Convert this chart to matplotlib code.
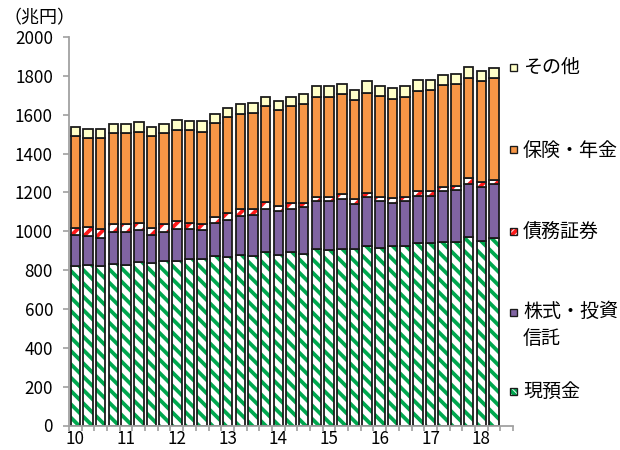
import matplotlib
matplotlib.use('Agg')
import matplotlib.pyplot as plt
from matplotlib.patches import Rectangle
import numpy as np

# quarterly, 2010 Q1 - 2018 Q2 (trillion yen)
years = ['10', '11', '12', '13', '14', '15', '16', '17', '18']
cash = [820, 827, 820, 832, 827, 841, 834, 848, 848, 856, 856, 872, 865, 879, 872, 892, 879,
        891, 884, 908, 901, 908, 908, 925, 915, 925, 925, 937, 937, 944, 944, 968, 952, 964]
stocks = [160, 149, 147, 165, 170, 165, 147, 149, 163, 154, 151, 171, 192, 199, 214, 225, 223,
          226, 242, 247, 254, 260, 231, 252, 240, 221, 230, 247, 247, 262, 269, 276, 278, 278]
bonds = [39, 45, 46, 39, 39, 38, 38, 39, 41, 33, 29, 29, 39, 34, 31, 33, 27,
         29, 22, 22, 22, 24, 26, 22, 22, 24, 22, 22, 22, 21, 22, 29, 21, 24]
pension = [471, 461, 468, 468, 468, 468, 471, 468, 468, 476, 475, 483, 490, 490, 492, 495, 494,
           500, 506, 516, 516, 514, 513, 514, 521, 512, 516, 516, 521, 525, 523, 516, 523, 523]
other = [46, 46, 46, 46, 46, 48, 46, 46, 53, 46, 55, 48, 48, 53, 53, 48, 48,
         46, 53, 53, 53, 53, 51, 60, 48, 53, 53, 58, 53, 51, 51, 58, 51, 51]

DPI = 80
PT = 72 / DPI  # pixels -> points

plt.rcParams['font.family'] = ['Noto Sans CJK JP', 'DejaVu Sans']
plt.rcParams['hatch.linewidth'] = 3.4

fig = plt.figure(figsize=(620 / DPI, 450 / DPI), dpi=DPI)
ax = fig.add_axes([69 / 620, 1 - 425.5 / 450, 444 / 620, 388.5 / 450])

x = np.arange(len(cash))
w = 0.75
edge = '#1a1a1a'
green = '#00a84f'
red = '#ff1a1a'

# (values, face colour, hatch, hatch colour)
layers = [
    (cash, 'white', '\\\\', green),
    (stocks, '#8064a2', None, None),
    (bonds, 'white', '//', red),
    (pension, '#f79646', None, None),
    (other, '#ffffc8', None, None),
]

bottom = np.zeros(len(x))
for vals, face, hatch, hc in layers:
    vals = np.array(vals, dtype=float)
    if hatch:
        ax.bar(x, vals, w, bottom=bottom, color=face, edgecolor=hc, hatch=hatch, linewidth=0)
    else:
        ax.bar(x, vals, w, bottom=bottom, color=face, linewidth=0)
    ax.bar(x, vals, w, bottom=bottom, fill=False, edgecolor=edge, linewidth=1.6)
    bottom += vals

ax.set_xlim(-0.5, len(x) + 0.5)
ax.set_ylim(0, 2000)
ax.set_yticks(range(0, 2001, 200))

ax.set_xticks(np.arange(0, len(x), 4))
ax.set_xticklabels(years)
ax.set_xticks(np.arange(-0.5, len(x) + 1, 1), minor=True)

for s in ['top', 'right']:
    ax.spines[s].set_visible(False)
for s in ['left', 'bottom']:
    ax.spines[s].set_color('#a0a0a0')
    ax.spines[s].set_linewidth(1.6)

ax.tick_params(axis='y', direction='out', length=6 * PT, width=1.5, color='#a0a0a0',
               labelsize=17 * PT, pad=10 * PT)
ax.tick_params(axis='x', which='major', length=0, labelsize=17 * PT, pad=5 * PT)
ax.tick_params(axis='x', which='minor', direction='out', length=5 * PT, width=1.5, color='#a0a0a0')

fig.text(4 / 620, 1 - 18 / 450, '（兆円）', fontsize=18 * PT, ha='left', va='center')

# legend on the right, from top to bottom: label, centre of first line (px), face, hatch
legend_items = [
    ('その他', 67, '#ffffc8', None, None),
    ('保険・年金', 150, '#f79646', None, None),
    ('債務証券', 231, 'white', '////', red),
    ('株式・投資\n信託', 312, '#8064a2', None, None),
    ('現預金', 391, 'white', '\\\\\\\\', green),
]
sq = 7
for label, ypx, face, hatch, hc in legend_items:
    yf = 1 - ypx / 450
    box = (510 / 620, yf - sq / 2 / 450)
    if hatch:
        fig.add_artist(Rectangle(box, sq / 620, sq / 450, transform=fig.transFigure,
                                 facecolor=face, edgecolor=hc, hatch=hatch, linewidth=0))
    fig.add_artist(Rectangle(box, sq / 620, sq / 450, transform=fig.transFigure,
                             facecolor='none' if hatch else face, edgecolor=edge, linewidth=1.2))
    if '\n' in label:
        fig.text(523 / 620, 1 - (ypx - 11) / 450, label, fontsize=19 * PT, ha='left', va='top',
                 linespacing=1.35)
    else:
        fig.text(523 / 620, yf, label, fontsize=19 * PT, ha='left', va='center')

fig.savefig('out.png', dpi=DPI)
